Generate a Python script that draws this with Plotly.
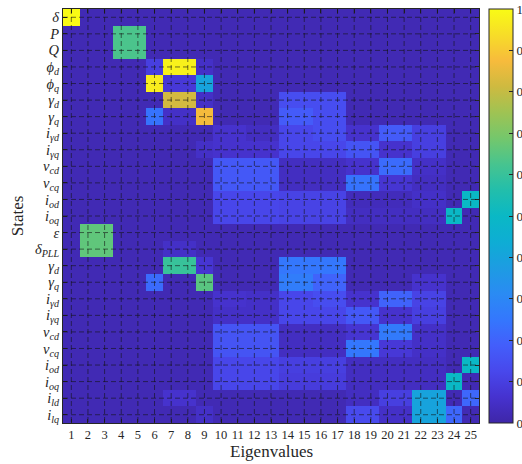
import plotly.graph_objects as go

eigen_labels = [str(i) for i in range(1, 26)]
state_labels = [
    "<i>δ</i>", "<i>P</i>", "<i>Q</i>",
    "<i>ϕ<sub>d</sub></i>", "<i>ϕ<sub>q</sub></i>",
    "<i>γ<sub>d</sub></i>", "<i>γ<sub>q</sub></i>",
    "<i>i<sub>γd</sub></i>", "<i>i<sub>γq</sub></i>",
    "<i>v<sub>cd</sub></i>", "<i>v<sub>cq</sub></i>",
    "<i>i<sub>od</sub></i>", "<i>i<sub>oq</sub></i>",
    "<i>ε</i>", "<i>δ<sub>PLL</sub></i>",
    "<i>γ<sub>d</sub></i>", "<i>γ<sub>q</sub></i>",
    "<i>i<sub>γd</sub></i>", "<i>i<sub>γq</sub></i>",
    "<i>v<sub>cd</sub></i>", "<i>v<sub>cq</sub></i>",
    "<i>i<sub>od</sub></i>", "<i>i<sub>oq</sub></i>",
    "<i>i<sub>ld</sub></i>", "<i>i<sub>lq</sub></i>",
]

# participation factors: rows = states, columns = eigenvalues 1..25
pf_delta   = [1.00,.02,.02,.02,.02,.02,.02,.02,.02,.02,.02,.02,.02,.02,.02,.02,.02,.02,.02,.02,.02,.02,.02,.02,.02]
pf_P       = [.02,.02,.02,.63,.63,.02,.02,.02,.02,.02,.02,.02,.02,.02,.02,.02,.02,.02,.02,.02,.02,.02,.02,.02,.02]
pf_Q       = [.02,.02,.02,.63,.63,.02,.02,.02,.02,.02,.02,.02,.02,.02,.02,.02,.02,.02,.02,.02,.02,.02,.02,.02,.02]
pf_phid    = [.02,.02,.02,.02,.02,.10,.98,.98,.05,.02,.02,.02,.02,.02,.02,.02,.02,.02,.02,.02,.02,.02,.02,.02,.02]
pf_phiq    = [.02,.02,.02,.02,.02,.97,.08,.08,.40,.02,.02,.02,.02,.02,.02,.02,.02,.02,.02,.02,.02,.02,.02,.02,.02]
pf_gd1     = [.02,.02,.02,.02,.02,.02,.82,.82,.05,.02,.02,.02,.02,.14,.14,.14,.14,.02,.02,.02,.02,.02,.02,.02,.02]
pf_gq1     = [.02,.02,.02,.02,.02,.24,.05,.05,.87,.02,.02,.02,.02,.18,.18,.14,.14,.02,.02,.02,.02,.02,.02,.02,.02]
pf_igd1    = [.02,.02,.02,.02,.02,.02,.02,.02,.02,.06,.06,.04,.04,.12,.12,.14,.14,.06,.06,.18,.18,.10,.10,.02,.02]
pf_igq1    = [.02,.02,.02,.02,.02,.02,.02,.02,.05,.06,.06,.06,.06,.12,.12,.12,.12,.16,.16,.06,.06,.10,.10,.02,.02]
pf_vcd1    = [.02,.02,.02,.02,.02,.02,.02,.02,.02,.17,.17,.17,.17,.04,.04,.04,.04,.06,.06,.22,.22,.05,.05,.02,.02]
pf_vcq1    = [.02,.02,.02,.02,.02,.02,.02,.02,.02,.17,.17,.17,.17,.04,.04,.04,.04,.24,.24,.07,.07,.04,.04,.02,.02]
pf_iod1    = [.02,.02,.02,.02,.02,.02,.02,.02,.02,.12,.12,.12,.12,.11,.11,.11,.11,.03,.03,.03,.03,.05,.05,.02,.50]
pf_ioq1    = [.02,.02,.02,.02,.02,.02,.02,.02,.02,.12,.12,.12,.12,.11,.11,.11,.11,.04,.04,.04,.04,.04,.04,.50,.02]
pf_eps     = [.02,.66,.66,.02,.02,.02,.02,.02,.02,.02,.02,.02,.02,.02,.02,.02,.02,.02,.02,.02,.02,.02,.02,.02,.02]
pf_dpll    = [.02,.66,.66,.02,.02,.02,.05,.05,.02,.02,.02,.02,.02,.02,.02,.02,.02,.02,.02,.02,.02,.02,.02,.02,.02]
pf_gd2     = [.02,.02,.02,.02,.02,.02,.60,.60,.07,.02,.02,.02,.02,.25,.25,.25,.25,.02,.02,.02,.02,.02,.02,.02,.02]
pf_gq2     = [.02,.02,.02,.02,.02,.22,.02,.02,.65,.02,.02,.02,.02,.27,.27,.20,.20,.02,.02,.02,.02,.06,.06,.02,.02]
pf_igd2    = [.02,.02,.02,.02,.02,.02,.02,.02,.02,.06,.06,.05,.05,.12,.12,.14,.14,.06,.06,.20,.20,.11,.11,.02,.02]
pf_igq2    = [.02,.02,.02,.02,.02,.02,.02,.02,.02,.05,.05,.05,.05,.12,.12,.12,.12,.17,.17,.06,.06,.10,.10,.02,.02]
pf_vcd2    = [.02,.02,.02,.02,.02,.02,.02,.02,.02,.16,.16,.16,.16,.04,.04,.04,.04,.07,.07,.26,.26,.05,.05,.02,.02]
pf_vcq2    = [.02,.02,.02,.02,.02,.02,.02,.02,.02,.16,.16,.16,.16,.04,.04,.04,.04,.25,.25,.08,.08,.05,.05,.02,.02]
pf_iod2    = [.02,.02,.02,.02,.02,.02,.02,.02,.02,.12,.12,.12,.12,.10,.10,.10,.10,.04,.04,.04,.04,.04,.04,.02,.50]
pf_ioq2    = [.02,.02,.02,.02,.02,.02,.02,.02,.02,.12,.12,.12,.12,.09,.09,.09,.09,.04,.04,.04,.04,.04,.04,.50,.02]
pf_ild     = [.02,.02,.02,.02,.02,.02,.06,.06,.02,.02,.02,.02,.02,.02,.02,.02,.02,.04,.04,.10,.10,.40,.40,.02,.21]
pf_ilq     = [.02,.02,.02,.02,.02,.02,.02,.02,.05,.02,.02,.02,.02,.02,.02,.02,.02,.13,.13,.05,.05,.40,.40,.21,.02]

pf = [pf_delta, pf_P, pf_Q, pf_phid, pf_phiq, pf_gd1, pf_gq1, pf_igd1, pf_igq1,
      pf_vcd1, pf_vcq1, pf_iod1, pf_ioq1, pf_eps, pf_dpll, pf_gd2, pf_gq2,
      pf_igd2, pf_igq2, pf_vcd2, pf_vcq2, pf_iod2, pf_ioq2, pf_ild, pf_ilq]

# colorbar tick labels as visible in the reference (decimals cut at the image edge)
cbar_vals = [0, 0.1, 0.2, 0.3, 0.4, 0.5, 0.6, 0.7, 0.8, 0.9, 1]
cbar_text = ["0", "0", "0", "0", "0", "0", "0", "0", "0", "0", "1"]

parula = [
    [0.0, "#3e26a8"], [0.0625, "#4632cf"], [0.125, "#4848ec"], [0.1875, "#435efb"],
    [0.25, "#3477fd"], [0.3125, "#2a8bf3"], [0.375, "#1d9ce2"], [0.4375, "#0eadd4"],
    [0.5, "#0ab8c5"], [0.5625, "#22beab"], [0.625, "#47c48f"], [0.6875, "#74c76c"],
    [0.75, "#9fc353"], [0.8125, "#ceba40"], [0.875, "#f7bb3c"], [0.9375, "#f7dd28"],
    [1.0, "#f9fb15"],
]

xs = list(range(1, len(eigen_labels) + 1))
ys = list(range(1, len(state_labels) + 1))

fig = go.Figure(go.Heatmap(
    z=pf, x=xs, y=ys, zmin=0, zmax=1, colorscale=parula, xgap=0, ygap=0,
    colorbar=dict(
        x=1.0245, xanchor="left", y=0.5, yanchor="middle", len=1.0, lenmode="fraction",
        thickness=24, outlinewidth=1, outlinecolor="#262626",
        tickvals=cbar_vals, ticktext=cbar_text, ticks="inside", ticklen=4,
        tickcolor="#262626", tickfont=dict(family="Liberation Serif", size=13, color="#262626"),
        xpad=0, ypad=0,
    ),
))

# dashed grid drawn over the heatmap
shapes = []
for v in xs:
    shapes.append(dict(type="line", xref="x", yref="y", x0=v, x1=v, y0=0.5, y1=len(ys) + 0.5,
                       line=dict(color="rgba(20,20,20,0.6)", width=1, dash="5px,3px"), layer="above"))
for v in ys:
    shapes.append(dict(type="line", xref="x", yref="y", y0=v, y1=v, x0=0.5, x1=len(xs) + 0.5,
                       line=dict(color="rgba(20,20,20,0.6)", width=1, dash="5px,3px"), layer="above"))

fig.update_layout(
    width=522, height=464,
    margin=dict(l=63, r=43, t=9, b=41, autoexpand=False),
    paper_bgcolor="white", plot_bgcolor="white",
    shapes=shapes,
    font=dict(family="Liberation Serif", color="#262626"),
    xaxis=dict(range=[0.5, 25.5], tickvals=xs, ticktext=eigen_labels, ticks="inside", ticklen=4,
               tickcolor="#262626", showline=True, linecolor="#262626", linewidth=1, mirror="ticks",
               showgrid=False, zeroline=False, layer="above traces",
               tickfont=dict(family="Liberation Serif", size=12.5, color="#262626")),
    yaxis=dict(range=[25.5, 0.5], tickvals=ys, ticktext=state_labels, ticks="inside", ticklen=4,
               tickcolor="#262626", showline=True, linecolor="#262626", linewidth=1, mirror="ticks",
               showgrid=False, zeroline=False, layer="above traces",
               tickfont=dict(family="Liberation Serif", size=14.5, color="#262626")),
    annotations=[
        dict(text="States", xref="paper", yref="paper", x=-0.11, y=0.5, xanchor="center",
             yanchor="middle", textangle=-90, showarrow=False,
             font=dict(family="Liberation Serif", size=17, color="#262626")),
        dict(text="Eigenvalues", xref="paper", yref="paper", x=0.5, y=-0.07, xanchor="center",
             yanchor="middle", showarrow=False,
             font=dict(family="Liberation Serif", size=17, color="#262626")),
    ],
)

fig.write_html("out.html")
